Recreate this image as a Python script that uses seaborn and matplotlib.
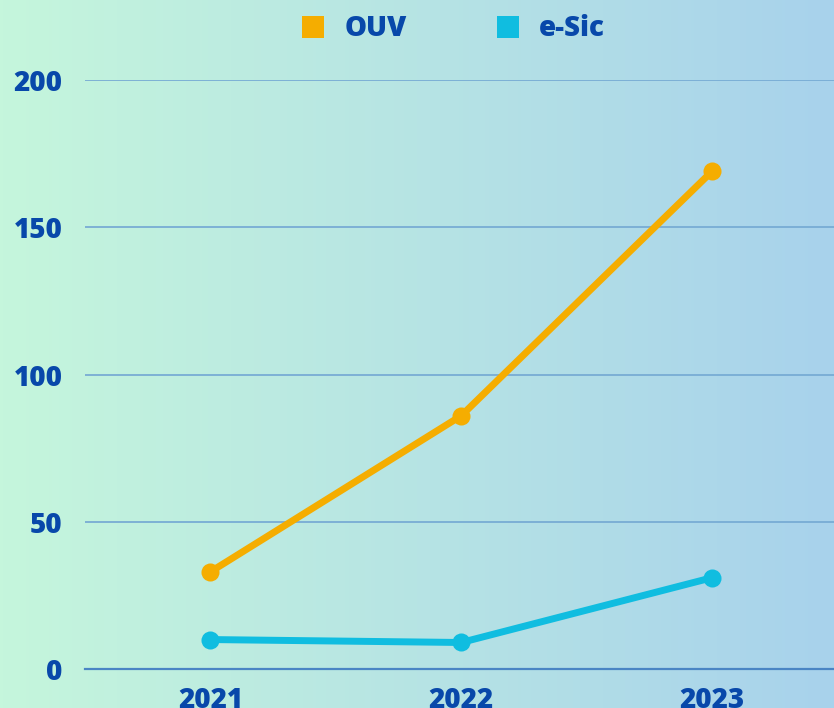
import numpy as np
import pandas as pd
import matplotlib
matplotlib.use("Agg")
import matplotlib.pyplot as plt
from matplotlib.lines import Line2D
import seaborn as sns

years = ["2021", "2022", "2023"]
ouv = [33, 86, 169]
esic = [10, 9, 31]
series_names = ["OUV", "e-Sic"]
y_ticks = [0, 50, 100, 150, 200]

colors = {"OUV": "#F5AD00", "e-Sic": "#10BDE0"}
text_color = "#0848AA"

df = pd.DataFrame({
    "Ano": years * 2,
    "Valor": ouv + esic,
    "Serie": [series_names[0]] * len(years) + [series_names[1]] * len(years),
})

sns.set_theme(style="white")
plt.rcParams["font.family"] = ["Open Sans", "DejaVu Sans"]
plt.rcParams["font.weight"] = "heavy"

W, H = 834, 708
fig = plt.figure(figsize=(W / 100, H / 100), dpi=100)

# gradient background
bg = fig.add_axes([0, 0, 1, 1], zorder=-10)
c_left = np.array([197, 246, 220]) / 255
c_right = np.array([168, 210, 236]) / 255
t = np.linspace(0, 1, 256)[None, :, None]
grad = c_left[None, None, :] * (1 - t) + c_right[None, None, :] * t
bg.imshow(grad, aspect="auto", extent=[0, 1, 0, 1])
bg.set_axis_off()

left = 85 / W
right_px = 837.5
bottom = (H - 669) / H
height = (669 - 80) / H
ax = fig.add_axes([left, bottom, (right_px - 85) / W, height])
ax.patch.set_alpha(0)

sns.lineplot(data=df, x="Ano", y="Valor", hue="Serie", palette=colors,
             marker="o", markersize=13, markeredgewidth=0, linewidth=5,
             ax=ax, legend=False, zorder=5, clip_on=False)

ax.set_xlim(-0.5, 2.5)
ax.set_ylim(0, 200)
ax.set_yticks(y_ticks)
ax.set_xlabel("")
ax.set_ylabel("")
for s in ["top", "right", "left"]:
    ax.spines[s].set_visible(False)
ax.spines["bottom"].set_color("#4A85C4")
ax.spines["bottom"].set_linewidth(1.6)
ax.yaxis.grid(True, color="#78ACD4", linewidth=1.3)
ax.set_axisbelow(True)
ax.tick_params(axis="both", length=0, labelsize=20, labelcolor=text_color)
ax.tick_params(axis="y", pad=16)
ax.tick_params(axis="x", pad=12)
for lab in ax.get_xticklabels() + ax.get_yticklabels():
    lab.set_fontweight("heavy")

handles = [Line2D([], [], marker="s", linestyle="none", markersize=16,
                  markerfacecolor=colors[n], markeredgewidth=0) for n in series_names]
leg = ax.legend(handles, series_names, loc="center", ncol=2,
                bbox_to_anchor=(452 / W, 1 - 29 / H), bbox_transform=fig.transFigure,
                frameon=False, handlelength=1.0, handletextpad=0.62,
                columnspacing=3.15, prop={"size": 20, "weight": "heavy"})
for tx in leg.get_texts():
    tx.set_color(text_color)

fig.savefig("out.png", dpi=100)
